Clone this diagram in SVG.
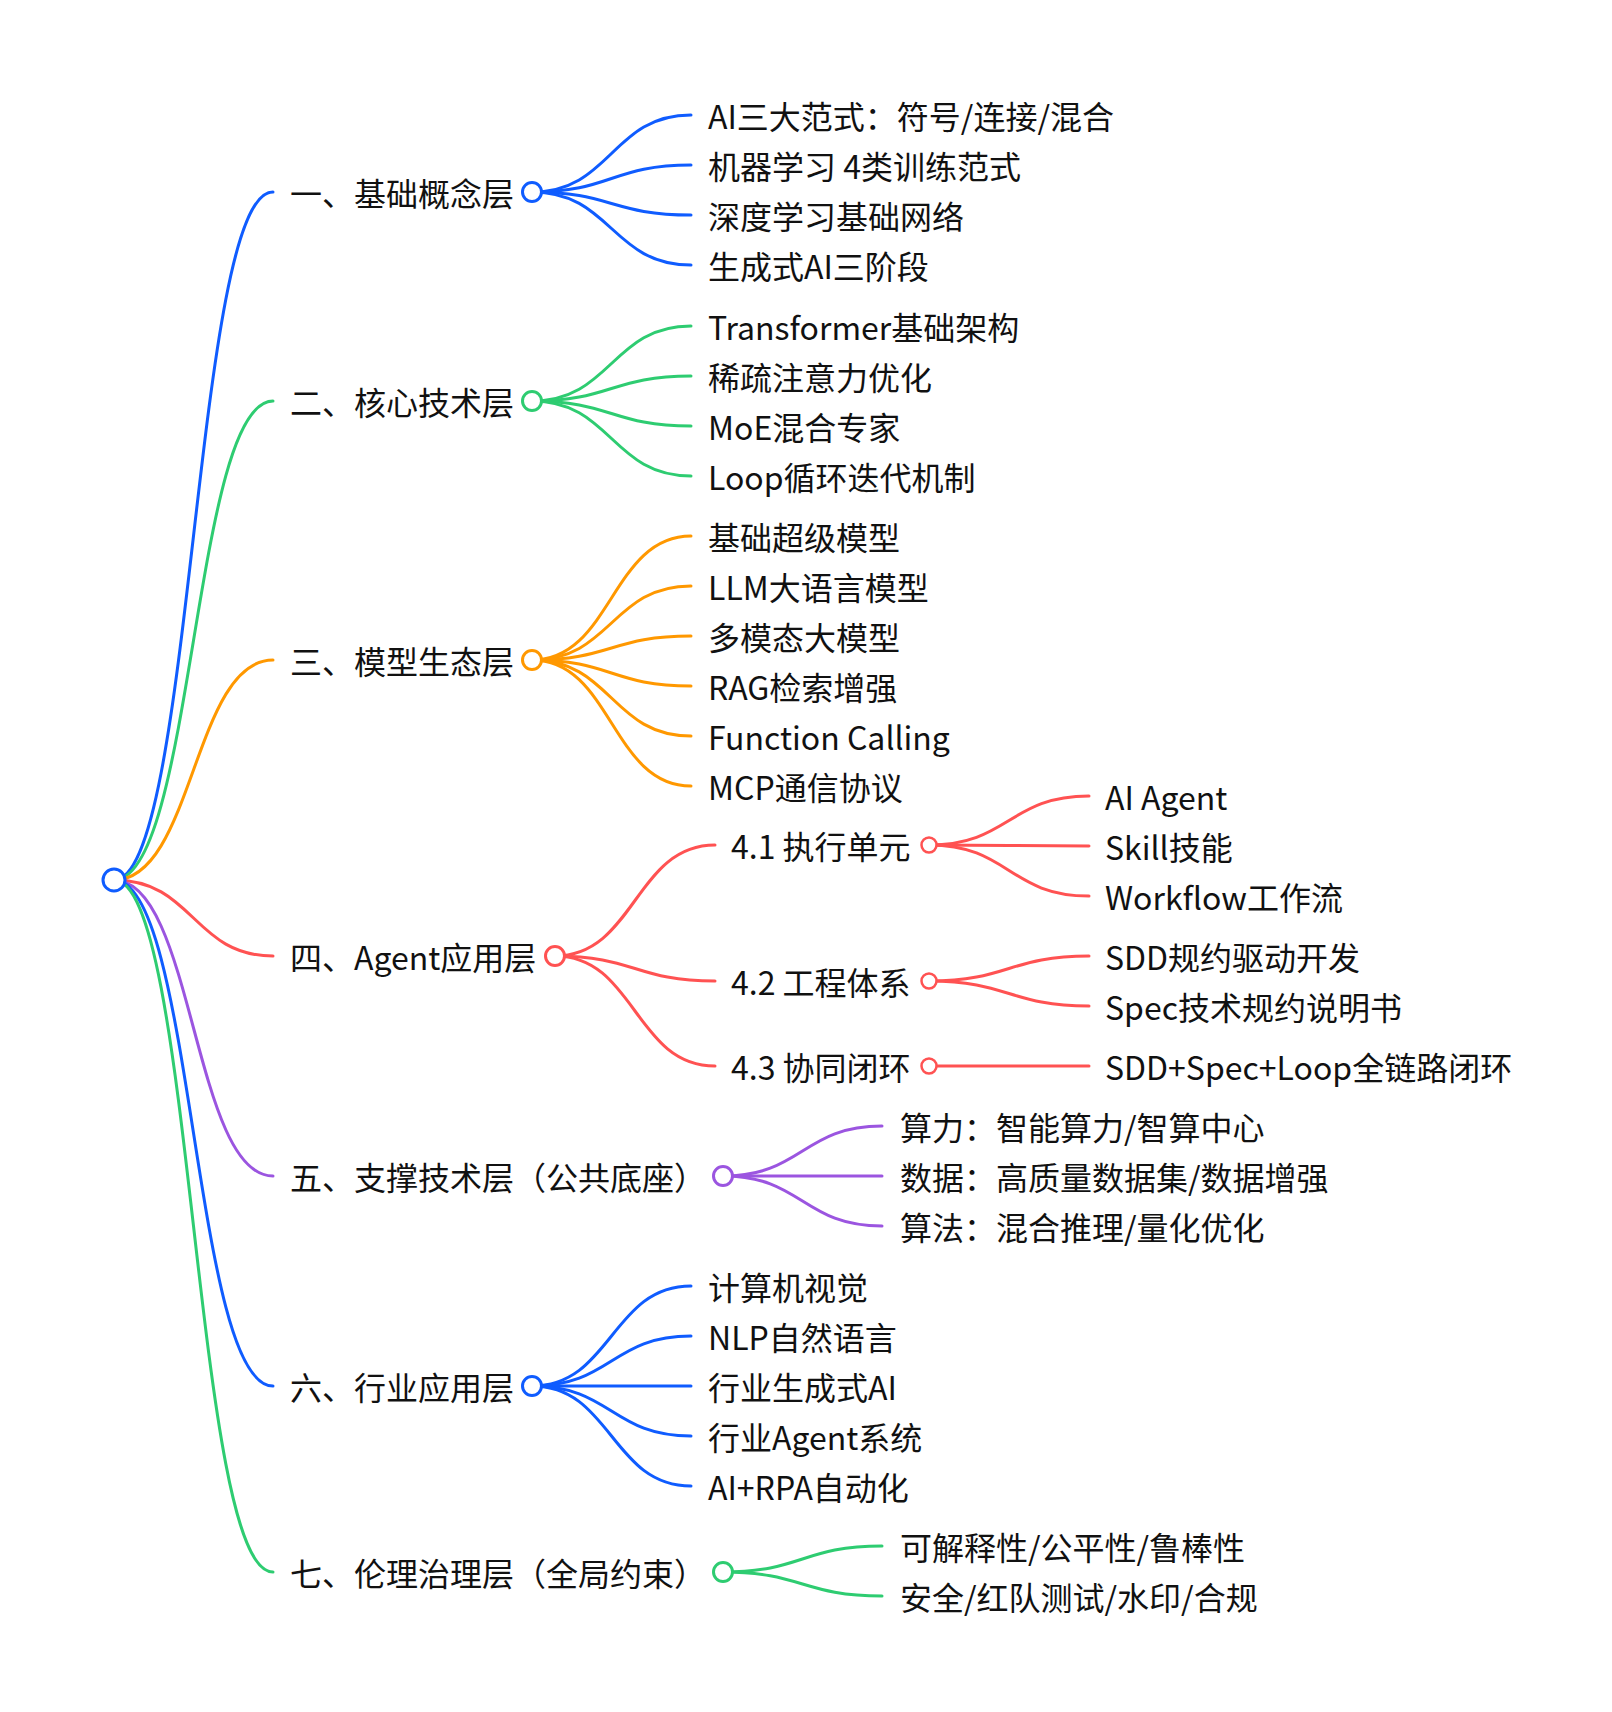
<svg xmlns="http://www.w3.org/2000/svg" width="1612" height="1712" viewBox="0 0 1612 1712">
  <style>
    text { font-family: "Noto Sans CJK SC", "Noto Sans", sans-serif; font-size: 32px; fill: #111; }
    .lk { fill: none; stroke-width: 3; stroke-linecap: round; }
    .dot { fill: #fff; stroke-width: 3; }
    .dot2 { fill: #fff; stroke-width: 2.5; }
    .blue { stroke: #0f5cff; }
    .green { stroke: #2ecc71; }
    .orange { stroke: #ff9800; }
    .red { stroke: #ff5252; }
    .purple { stroke: #9b55e0; }
  </style>
  <rect width="1612" height="1712" fill="#fff"/>

  <!-- connectors -->
  <g id="links">
    <!-- root to layers -->
    <path class="lk blue" d="M114 880 C193.5 880 193.5 192 273 192"/>
    <path class="lk green" d="M114 880 C193.5 880 193.5 401 273 401"/>
    <path class="lk orange" d="M114 880 C193.5 880 193.5 660 273 660"/>
    <path class="lk red" d="M114 880 C193.5 880 193.5 956 273 956"/>
    <path class="lk purple" d="M114 880 C193.5 880 193.5 1176 273 1176"/>
    <path class="lk blue" d="M114 880 C193.5 880 193.5 1386 273 1386"/>
    <path class="lk green" d="M114 880 C193.5 880 193.5 1572 273 1572"/>

    <!-- layer 1 -->
    <path class="lk blue" d="M532 192 C611.5 192 611.5 115 691 115"/>
    <path class="lk blue" d="M532 192 C611.5 192 611.5 165 691 165"/>
    <path class="lk blue" d="M532 192 C611.5 192 611.5 215 691 215"/>
    <path class="lk blue" d="M532 192 C611.5 192 611.5 265 691 265"/>

    <!-- layer 2 -->
    <path class="lk green" d="M532 401 C611.5 401 611.5 326 691 326"/>
    <path class="lk green" d="M532 401 C611.5 401 611.5 376 691 376"/>
    <path class="lk green" d="M532 401 C611.5 401 611.5 426 691 426"/>
    <path class="lk green" d="M532 401 C611.5 401 611.5 476 691 476"/>

    <!-- layer 3 -->
    <path class="lk orange" d="M532 660 C611.5 660 611.5 536 691 536"/>
    <path class="lk orange" d="M532 660 C611.5 660 611.5 586 691 586"/>
    <path class="lk orange" d="M532 660 C611.5 660 611.5 636 691 636"/>
    <path class="lk orange" d="M532 660 C611.5 660 611.5 686 691 686"/>
    <path class="lk orange" d="M532 660 C611.5 660 611.5 736 691 736"/>
    <path class="lk orange" d="M532 660 C611.5 660 611.5 786 691 786"/>

    <!-- layer 4 -->
    <path class="lk red" d="M555 956 C635 956 635 845 715 845"/>
    <path class="lk red" d="M555 956 C635 956 635 981 715 981"/>
    <path class="lk red" d="M555 956 C635 956 635 1066 715 1066"/>
    <path class="lk red" d="M929 845 C1009 845 1009 796 1089 796"/>
    <path class="lk red" d="M929 845 C1009 845 1009 846 1089 846"/>
    <path class="lk red" d="M929 845 C1009 845 1009 896 1089 896"/>
    <path class="lk red" d="M929 981 C1009 981 1009 956 1089 956"/>
    <path class="lk red" d="M929 981 C1009 981 1009 1006 1089 1006"/>
    <path class="lk red" d="M929 1066 L1089 1066"/>

    <!-- layer 5 -->
    <path class="lk purple" d="M723 1176 C802.5 1176 802.5 1126 882 1126"/>
    <path class="lk purple" d="M723 1176 L882 1176"/>
    <path class="lk purple" d="M723 1176 C802.5 1176 802.5 1226 882 1226"/>

    <!-- layer 6 -->
    <path class="lk blue" d="M532 1386 C611.5 1386 611.5 1286 691 1286"/>
    <path class="lk blue" d="M532 1386 C611.5 1386 611.5 1336 691 1336"/>
    <path class="lk blue" d="M532 1386 L691 1386"/>
    <path class="lk blue" d="M532 1386 C611.5 1386 611.5 1436 691 1436"/>
    <path class="lk blue" d="M532 1386 C611.5 1386 611.5 1486 691 1486"/>

    <!-- layer 7 -->
    <path class="lk green" d="M723 1572 C802.5 1572 802.5 1546 882 1546"/>
    <path class="lk green" d="M723 1572 C802.5 1572 802.5 1596 882 1596"/>
  </g>

  <!-- root -->
  <g id="root"><circle class="dot blue" cx="114" cy="880" r="11"/></g>

  <!-- 一 -->
  <g id="n1">
    <text x="290" y="206">一、基础概念层</text>
    <circle class="dot blue" cx="532" cy="192" r="9.5"/>
  </g>
  <g id="n1-1"><text x="708" y="129">AI三大范式：符号/连接/混合</text></g>
  <g id="n1-2"><text x="708" y="179">机器学习 4类训练范式</text></g>
  <g id="n1-3"><text x="708" y="229">深度学习基础网络</text></g>
  <g id="n1-4"><text x="708" y="279">生成式AI三阶段</text></g>

  <!-- 二 -->
  <g id="n2">
    <text x="290" y="415">二、核心技术层</text>
    <circle class="dot green" cx="532" cy="401" r="9.5"/>
  </g>
  <g id="n2-1"><text x="708" y="340">Transformer基础架构</text></g>
  <g id="n2-2"><text x="708" y="390">稀疏注意力优化</text></g>
  <g id="n2-3"><text x="708" y="440">MoE混合专家</text></g>
  <g id="n2-4"><text x="708" y="490">Loop循环迭代机制</text></g>

  <!-- 三 -->
  <g id="n3">
    <text x="290" y="674">三、模型生态层</text>
    <circle class="dot orange" cx="532" cy="660" r="9.5"/>
  </g>
  <g id="n3-1"><text x="708" y="550">基础超级模型</text></g>
  <g id="n3-2"><text x="708" y="600">LLM大语言模型</text></g>
  <g id="n3-3"><text x="708" y="650">多模态大模型</text></g>
  <g id="n3-4"><text x="708" y="700">RAG检索增强</text></g>
  <g id="n3-5"><text x="708" y="750">Function Calling</text></g>
  <g id="n3-6"><text x="708" y="800">MCP通信协议</text></g>

  <!-- 四 -->
  <g id="n4">
    <text x="290" y="970">四、Agent应用层</text>
    <circle class="dot red" cx="555" cy="956" r="9.5"/>
  </g>
  <g id="n4-1">
    <text x="731" y="859">4.1 执行单元</text>
    <circle class="dot2 red" cx="929" cy="845" r="7.5"/>
  </g>
  <g id="n4-1-1"><text x="1105" y="810">AI Agent</text></g>
  <g id="n4-1-2"><text x="1105" y="860">Skill技能</text></g>
  <g id="n4-1-3"><text x="1105" y="910">Workflow工作流</text></g>
  <g id="n4-2">
    <text x="731" y="995">4.2 工程体系</text>
    <circle class="dot2 red" cx="929" cy="981" r="7.5"/>
  </g>
  <g id="n4-2-1"><text x="1105" y="970">SDD规约驱动开发</text></g>
  <g id="n4-2-2"><text x="1105" y="1020">Spec技术规约说明书</text></g>
  <g id="n4-3">
    <text x="731" y="1080">4.3 协同闭环</text>
    <circle class="dot2 red" cx="929" cy="1066" r="7.5"/>
  </g>
  <g id="n4-3-1"><text x="1105" y="1080">SDD+Spec+Loop全链路闭环</text></g>

  <!-- 五 -->
  <g id="n5">
    <text x="290" y="1190">五、支撑技术层（公共底座）</text>
    <circle class="dot purple" cx="723" cy="1176" r="9.5"/>
  </g>
  <g id="n5-1"><text x="900" y="1140">算力：智能算力/智算中心</text></g>
  <g id="n5-2"><text x="900" y="1190">数据：高质量数据集/数据增强</text></g>
  <g id="n5-3"><text x="900" y="1240">算法：混合推理/量化优化</text></g>

  <!-- 六 -->
  <g id="n6">
    <text x="290" y="1400">六、行业应用层</text>
    <circle class="dot blue" cx="532" cy="1386" r="9.5"/>
  </g>
  <g id="n6-1"><text x="708" y="1300">计算机视觉</text></g>
  <g id="n6-2"><text x="708" y="1350">NLP自然语言</text></g>
  <g id="n6-3"><text x="708" y="1400">行业生成式AI</text></g>
  <g id="n6-4"><text x="708" y="1450">行业Agent系统</text></g>
  <g id="n6-5"><text x="708" y="1500">AI+RPA自动化</text></g>

  <!-- 七 -->
  <g id="n7">
    <text x="290" y="1586">七、伦理治理层（全局约束）</text>
    <circle class="dot green" cx="723" cy="1572" r="9.5"/>
  </g>
  <g id="n7-1"><text x="900" y="1560">可解释性/公平性/鲁棒性</text></g>
  <g id="n7-2"><text x="900" y="1610">安全/红队测试/水印/合规</text></g>
</svg>
